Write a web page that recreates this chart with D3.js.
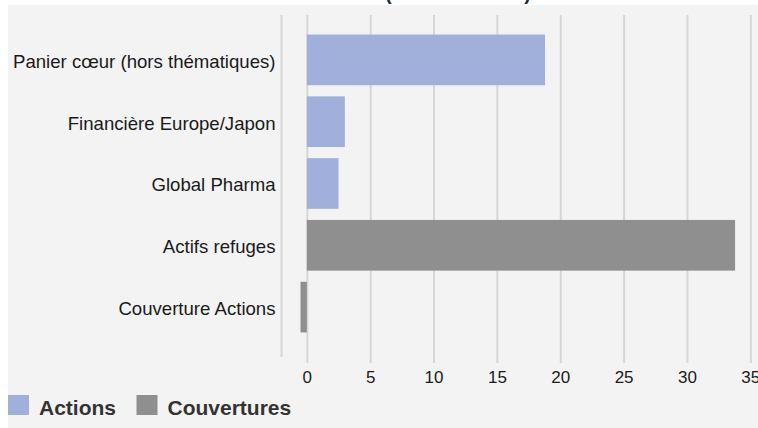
<!DOCTYPE html>
<html>
<head>
<meta charset="utf-8">
<script src="https://cdn.jsdelivr.net/npm/d3@7"></script>
<style>
  body { margin: 0; background: #fff; }
  svg { display: block; font-family: "Liberation Sans", Arial, sans-serif; }
</style>
</head>
<body>
<script>
// data
const categories = ["Panier cœur (hors thématiques)", "Financière Europe/Japon", "Global Pharma", "Actifs refuges", "Couverture Actions"];
const values = [18.8, 3.0, 2.5, 33.8, -0.5];
const groups = ["Actions", "Actions", "Actions", "Couvertures", "Couvertures"];
const seriesNames = ["Actions", "Couvertures"];
const seriesColors = ["#a0b0da", "#8f8f8f"];
const xTicks = [0, 5, 10, 15, 20, 25, 30, 35];

const w = 758, h = 428;
const color = d3.scaleOrdinal().domain(seriesNames).range(seriesColors);

const svg = d3.select('body')
    .append('svg')
    .attr('width', w)
    .attr('height', h);

// panel background
svg.append('rect')
    .attr('x', 8).attr('y', 5)
    .attr('width', w - 8).attr('height', h - 5)
    .attr('fill', '#f3f3f3');

// title, mostly above the visible area
svg.append('text')
    .attr('x', 531)
    .attr('y', 0)
    .attr('text-anchor', 'end')
    .attr('font-size', 20)
    .attr('font-weight', 'bold')
    .attr('fill', '#1b2a47')
    .text("Allocation (en % de l'actif)");

// scales
const xScale = d3.scaleLinear()
    .domain([-2, 35])
    .range([281.5, 750.3]);

const yScale = d3.scaleBand()
    .domain(categories)
    .range([29, 338])
    .paddingInner(0.18)
    .paddingOuter(0.09);

const gridTop = 15, axisY = 363;

// x axis with gridlines
const xAxis = d3.axisBottom(xScale)
    .tickValues(xTicks)
    .tickSizeInner(-(axisY - gridTop))
    .tickSizeOuter(0)
    .tickPadding(8)
    .tickFormat(d3.format('d'));

const gx = svg.append('g')
    .attr('transform', `translate(0, ${axisY})`)
    .call(xAxis);
gx.select('.domain').remove();
gx.selectAll('line').attr('stroke', '#d6d6d6').attr('stroke-width', 2);
gx.selectAll('text')
    .attr('font-size', 17)
    .attr('fill', '#1a1a1a')
    .style('font-family', '"Liberation Sans", Arial, sans-serif');

// left boundary line
svg.append('line')
    .attr('x1', xScale(-2)).attr('x2', xScale(-2))
    .attr('y1', gridTop).attr('y2', 357)
    .attr('stroke', '#d6d6d6')
    .attr('stroke-width', 2);

// bars
svg.selectAll('.bar')
    .data(categories)
    .enter()
    .append('rect')
    .attr('class', 'bar')
    .attr('x', (d, i) => xScale(Math.min(0, values[i])))
    .attr('y', (d) => yScale(d))
    .attr('width', (d, i) => Math.abs(xScale(values[i]) - xScale(0)))
    .attr('height', yScale.bandwidth())
    .attr('fill', (d, i) => color(groups[i]));

// y axis labels
const yAxis = d3.axisLeft(yScale).tickSize(0).tickPadding(6);
const gy = svg.append('g')
    .attr('transform', `translate(${xScale(-2)}, 2)`)
    .call(yAxis);
gy.select('.domain').remove();
gy.selectAll('text')
    .attr('font-size', 18.6)
    .attr('fill', '#1a1a1a')
    .style('font-family', '"Liberation Sans", Arial, sans-serif');

// legend
const legendX = [8, 136.5];
const legend = svg.append('g')
    .selectAll('g')
    .data(seriesNames)
    .enter()
    .append('g')
    .attr('transform', (d, i) => `translate(${legendX[i]}, 395)`);

legend.append('rect')
    .attr('width', 21)
    .attr('height', 20)
    .attr('fill', (d) => color(d));

legend.append('text')
    .attr('x', 31)
    .attr('y', 20)
    .attr('font-size', 21)
    .attr('font-weight', 'bold')
    .attr('fill', '#333')
    .text((d) => d);
</script>
</body>
</html>
